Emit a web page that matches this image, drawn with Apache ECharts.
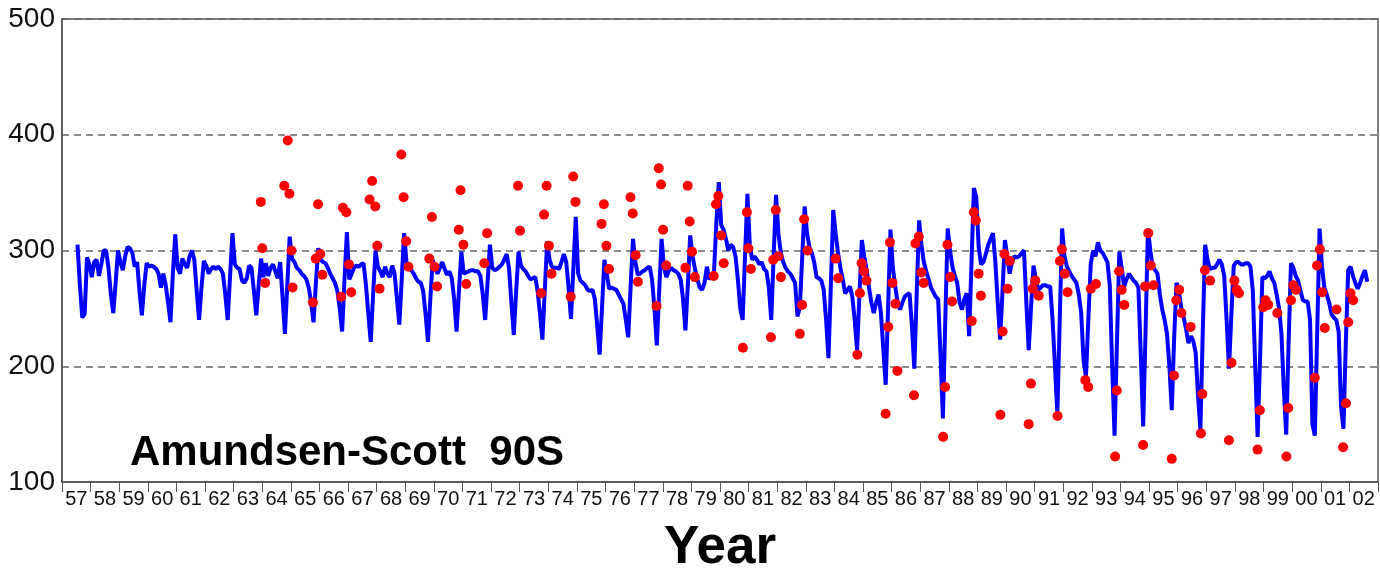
<!DOCTYPE html>
<html>
<head>
<meta charset="utf-8">
<title>Amundsen-Scott 90S</title>
<script src="https://cdn.jsdelivr.net/npm/echarts@6/dist/echarts.min.js"></script>
<style>
  html, body { margin: 0; padding: 0; background: #fff; }
  #chart { width: 1380px; height: 568px; }
</style>
</head>
<body>
<div id="chart"></div>
<script>
// tick labels under each year
var yearLabels = ['57','58','59','60','61','62','63','64','65','66','67','68','69','70','71','72',
  '73','74','75','76','77','78','79','80','81','82','83','84','85','86','87','88','89','90','91',
  '92','93','94','95','96','97','98','99','00','01','02'];

// blue line: monthly values Jan..Dec, one row per year
var lineFirstYear = 1957;
var lineRows = [
  [null,null,null,null,null,null,305,270,242,245,294,288], //1957
  [277,290,292,278,288,300,300,285,262,246,272,300],
  [290,283,295,303,302,298,286,290,265,244,270,289],
  [286,287,286,284,280,268,280,270,255,238,280,314], //1960
  [285,280,293,288,285,295,300,292,265,240,268,291],
  [287,280,284,286,284,286,284,280,262,240,278,315],
  [288,285,284,274,272,276,287,285,265,244,270,293],
  [277,289,278,285,288,282,276,290,260,228,270,312],
  [293,290,285,283,280,278,275,268,255,238,272,302],
  [292,290,289,285,280,276,272,265,250,230,275,316],
  [275,280,285,287,286,288,289,270,245,221,262,300],
  [286,282,277,286,280,277,287,280,258,236,275,315],
  [290,286,283,280,276,273,272,265,245,221,258,292],
  [285,280,285,290,284,279,282,276,258,230,265,299], //1970
  [280,281,282,283,283,282,282,278,262,240,272,305],
  [285,283,284,286,288,292,297,285,255,227,265,299],
  [287,284,282,278,275,276,277,265,245,223,265,308],
  [292,286,285,285,284,290,297,290,268,241,285,329],
  [280,274,272,270,266,265,266,258,235,210,250,292],
  [280,267,268,267,266,262,258,254,240,225,268,310],
  [290,279,280,282,283,285,286,275,250,218,265,310],
  [285,277,282,285,283,282,280,275,258,231,270,313],
  [295,284,275,268,266,272,286,275,278,282,325,359],
  [322,318,310,300,305,303,295,275,250,240,295,349], //1980
  [305,292,295,292,288,290,284,282,268,240,295,348],
  [315,298,290,285,282,280,276,272,243,251,295,338],
  [315,303,298,290,277,276,274,266,240,207,270,335],
  [315,298,285,275,263,266,269,260,240,214,262,309],
  [295,283,268,255,246,255,262,246,215,184,250,318],
  [285,269,255,249,255,260,262,263,235,198,262,326],
  [305,290,282,275,268,264,260,258,210,155,240,319],
  [300,286,278,272,255,249,258,263,226,290,354,346],
  [303,288,290,297,305,310,315,290,255,223,265,309],
  [295,280,290,295,294,295,298,300,255,214,252,287], //1990
  [275,266,268,270,270,269,269,240,200,159,240,319],
  [295,286,282,278,275,272,262,246,205,191,240,288],
  [300,295,307,300,298,294,290,270,200,140,220,299],
  [285,269,275,280,277,274,272,268,210,148,230,319],
  [300,286,283,280,262,249,240,228,200,162,225,272],
  [265,250,242,232,220,226,222,212,175,145,230,305],
  [292,284,285,285,288,292,288,278,240,198,245,287],
  [290,290,288,288,289,289,286,265,200,139,205,277],
  [276,278,282,276,272,262,250,228,180,141,220,289],
  [285,278,274,265,257,256,256,240,150,140,230,319], //2000
  [286,268,262,255,245,242,240,230,165,146,220,283],
  [286,278,272,267,272,278,283,273,null,null,null,null]
];

// red dots: observation time (decimal year) and value
var dotYears = [
  1963.95,1964.00,1964.10,1964.77,1964.89,1964.95,1965.02,1965.06,1965.77,1965.87,1965.95,1966.03,
  1966.10,1966.76,1966.82,1966.94,1967.03,1967.11,1967.75,1967.84,1967.95,1968.02,1968.10,1968.86,
  1968.94,1969.03,1969.11,1969.84,1969.93,1970.02,1970.11,1970.87,1970.93,1971.03,1971.13,1971.76,
  1971.86,1972.94,1973.01,1973.75,1973.85,1973.94,1974.02,1974.11,1974.78,1974.87,1974.95,1975.86,
  1975.94,1976.03,1976.12,1976.87,1976.95,1977.05,1977.13,1977.78,1977.86,1977.94,1978.01,1978.12,
  1978.79,1978.87,1978.94,1979.02,1979.12,1979.78,1979.86,1979.94,1980.04,1980.13,1980.80,1980.94,
  1980.99,1981.08,1981.78,1981.86,1981.95,1982.04,1982.13,1982.79,1982.87,1982.94,1983.06,1984.04,
  1984.13,1984.80,1984.89,1984.95,1985.03,1985.12,1985.79,1985.88,1985.94,1986.03,1986.13,1986.20,
  1986.78,1986.83,1986.95,1987.04,1987.12,1987.80,1987.87,1987.95,1988.05,1988.11,1988.80,1988.87,
  1988.94,1989.04,1989.12,1989.80,1989.88,1989.94,1990.05,1990.13,1990.79,1990.87,1990.93,1991.02,
  1991.14,1991.80,1991.88,1991.95,1992.05,1992.15,1992.77,1992.87,1992.96,1993.14,1993.81,1993.87,
  1993.95,1994.04,1994.13,1994.79,1994.86,1994.97,1995.06,1995.15,1995.79,1995.87,1995.95,1996.05,
  1996.13,1996.45,1996.81,1996.86,1996.95,1997.13,1997.79,1997.88,1997.98,1998.06,1998.14,1998.79,
  1998.87,1998.99,1999.07,1999.16,1999.48,1999.80,1999.86,1999.96,2000.04,2000.13,2000.79,2000.87,
  2000.97,2001.05,2001.14,2001.55,2001.78,2001.88,2001.96,2002.04,2002.13
];
var dotValues = [
  342,302,272,356,395,349,300,268,255,293,340,297,
  279,260,337,333,288,264,344,360,338,304,267,383,
  346,308,286,293,329,286,269,318,352,305,271,289,
  315,356,317,263,331,356,304,280,260,364,342,323,
  340,304,284,346,332,296,273,252,371,357,318,287,
  285,356,325,299,277,278,340,347,313,289,216,333,
  302,284,225,292,335,295,277,228,253,327,300,293,
  276,210,263,289,282,274,159,234,307,272,254,196,
  175,306,312,281,272,139,182,305,277,256,239,333,
  326,280,261,158,230,297,267,291,150,185,267,274,
  261,157,291,301,280,264,188,182,267,271,122,179,
  282,266,253,132,269,315,287,270,120,192,257,266,
  246,234,142,176,283,274,136,203,274,266,263,128,
  162,251,257,253,246,122,164,257,270,266,190,287,
  301,264,233,249,130,168,238,263,257
];

var chart = echarts.init(document.getElementById('chart'));

// flatten rows into [decimal year, value] at mid-month
var lineData = [];
lineRows.forEach(function(row, i){
  row.forEach(function(v, m){
    if (v !== null) lineData.push([lineFirstYear + i + (m + 0.5) / 12, v]);
  });
});
var dotData = dotYears.map(function(y, i){ return [y, dotValues[i]]; });

var frameColor = '#555';

chart.setOption({
  animation: false,
  backgroundColor: '#fff',
  grid: {
    left: 62, right: 2, top: 19, bottom: 86,
    outerBoundsMode: 'none',
    containLabel: false,
    show: true, borderColor: frameColor, borderWidth: 1.5
  },
  xAxis: [{
    type: 'category'
    ,data: yearLabels
    ,boundaryGap: true
    ,axisLine: { lineStyle: { color: frameColor, width: 1.5 } }
    ,axisTick: { show: true, length: 10, lineStyle: { color: frameColor, width: 1 } }
    ,axisLabel: {
      interval: 0, margin: 7, color: '#111', fontSize: 20,
      fontFamily: '"Liberation Sans", Arial, sans-serif'
    }
    ,splitLine: { show: false }
    ,name: 'Year'
    ,nameLocation: 'middle'
    ,nameGap: 40
    ,nameTextStyle: {
      color: '#000', fontSize: 53, fontWeight: 'bold',
      fontFamily: '"Liberation Sans", Arial, sans-serif'
    }
  }, {
    type: 'value'
    ,min: 1957
    ,max: 2003
    ,show: false
  }],
  yAxis: {
    type: 'value'
    ,min: 100
    ,max: 500
    ,interval: 100
    ,axisLine: { show: true, lineStyle: { color: frameColor, width: 1.5 } }
    ,axisTick: { show: false }
    ,axisLabel: {
      margin: 7, color: '#111', fontSize: 28,
      fontFamily: '"Liberation Sans", Arial, sans-serif'
    }
    ,splitLine: { show: true, lineStyle: { color: '#666', width: 1.5, type: [7, 5] } }
  },
  graphic: [{
    type: 'text'
    ,x: 130
    ,y: 453
    ,style: {
      text: 'Amundsen-Scott  90S',
      fill: '#000',
      font: 'bold 42px "Liberation Sans", Arial, sans-serif',
      verticalAlign: 'middle'
    }
  }],
  series: [{
    type: 'line'
    ,xAxisIndex: 1
    ,data: lineData
    ,showSymbol: false
    ,lineStyle: { color: '#0000ff', width: 4 }
    ,z: 2
  }, {
    type: 'scatter'
    ,xAxisIndex: 1
    ,data: dotData
    ,symbolSize: 10
    ,itemStyle: { color: '#ff0000', opacity: 1 }
    ,z: 3
  }]
});
</script>
</body>
</html>
